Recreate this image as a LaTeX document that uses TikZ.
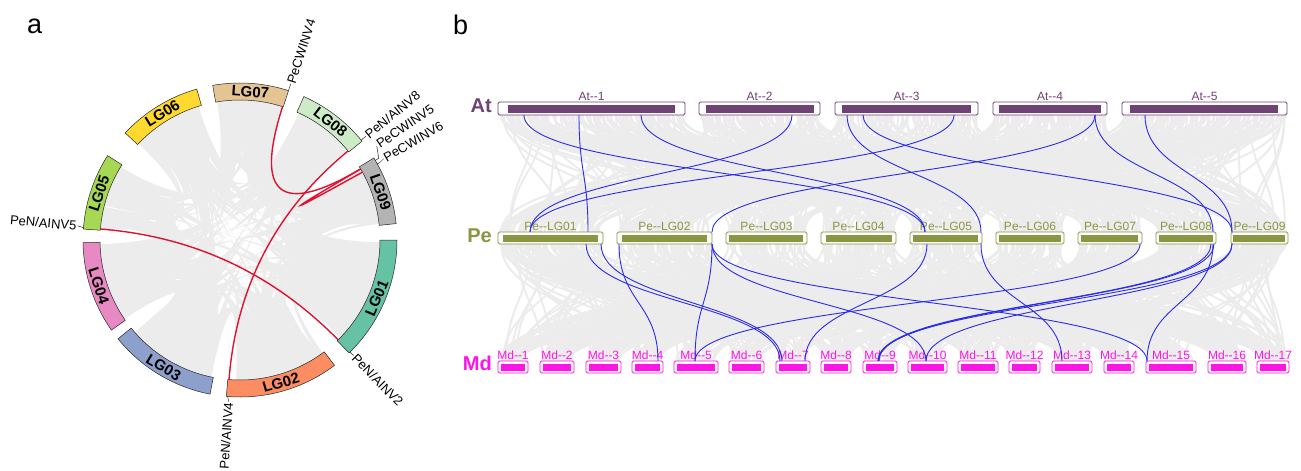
\documentclass[tikz,border=0pt]{standalone}
\usepackage{fontspec}
\setmainfont{Liberation Sans}
\definecolor{atc}{HTML}{6E4272}
\definecolor{pec}{HTML}{8A9642}
\definecolor{mdc}{HTML}{FF14E8}
\definecolor{blc}{HTML}{2B2BEB}
\definecolor{rdc}{HTML}{E0102E}
\definecolor{gyc}{HTML}{ECECEC}
\definecolor{lg1}{HTML}{66C2A5}
\definecolor{lg2}{HTML}{FC8D62}
\definecolor{lg3}{HTML}{8DA0CB}
\definecolor{lg4}{HTML}{E78AC3}
\definecolor{lg5}{HTML}{A6D854}
\definecolor{lg6}{HTML}{FFD92F}
\definecolor{lg7}{HTML}{E5C494}
\definecolor{lg8}{HTML}{CDEBC7}
\definecolor{lg9}{HTML}{B3B3B3}
\def\cst{{0,53,101,145,184,223,260,294,328.5}}
\def\cen{{46,95,141,179,212.5,254,288,321,354}}
\def\atL{{498,699,835,993,1122}}
\def\atR{{685,820,978,1107,1287}}
\def\peL{{498,617,726,821,910,996,1078,1156,1231}}
\def\peR{{603,712,807,896,982,1064,1142,1216,1288}}
\def\mdL{{498,540,586,632,674,729,776,821,863,908,958,1009,1052,1104,1146,1208,1257}}
\def\mdR{{528,574,621,663,718,764,810,851,897,947,998,1040,1092,1134,1196,1246,1289}}
\begin{document}
\begin{tikzpicture}[x=1pt,y=1pt,
  band/.style={draw=black!85, line width=0.5pt},
  lgtext/.style={font=\fontsize{15}{15}\selectfont\bfseries, inner sep=0pt},
  genetext/.style={font=\fontsize{13}{13}\selectfont, inner sep=0pt},
  ticker/.style={draw=black!85, line width=0.5pt},
  redlink/.style={draw=rdc, line width=1.4pt},
  ribbon/.style={fill=gyc},
  graylink/.style={draw=gyc, line width=2pt},
  bluelink/.style={draw=blc, line width=0.9pt},
  chrlabel/.style={font=\fontsize{12}{12}\selectfont, inner sep=0pt, anchor=base},
  rowlabel/.style={font=\fontsize{20}{20}\selectfont\bfseries, inner sep=0pt, anchor=base east},
  panel/.style={font=\fontsize{27}{27}\selectfont, inner sep=0pt, anchor=base west}
]
\useasboundingbox (0,0) rectangle (1301,-471);
\node[panel] (pa) at (27,-33) {a};
\node[panel] (pb) at (453,-34) {b};

% ================= panel a : circos =================
\begin{scope}[shift={(240,-240)}]
\pgfmathsetseed{11}
\foreach \i in {1,...,150}{
  \pgfmathtruncatemacro\ka{random(0,8)}
  \pgfmathtruncatemacro\kb{mod(\ka+random(1,8),9)}
  \pgfmathsetmacro\wa{1+8*rnd}
  \pgfmathsetmacro\wb{max(0.8,\wa*(0.5+rnd))}
  \pgfmathsetmacro\ta{\cst[\ka]+0.5+rnd*(\cen[\ka]-\cst[\ka]-\wa-1)}
  \pgfmathsetmacro\tb{\cst[\kb]+0.5+rnd*(\cen[\kb]-\cst[\kb]-\wb-1)}
  \fill[ribbon] (-\ta:140) .. controls (-\ta:46.7) and (-\tb:46.7) .. (-\tb:140)
     arc[start angle=-\tb, end angle={-\tb-\wb}, radius=140]
     .. controls ({-\tb-\wb}:46.7) and ({-\ta-\wa}:46.7) .. ({-\ta-\wa}:140)
     arc[start angle={-\ta-\wa}, end angle=-\ta, radius=140] -- cycle;
}
\foreach \s/\e/\c/\t in {0/46/lg1/LG01, 53/95/lg2/LG02, 101/141/lg3/LG03, 145/179/lg4/LG04,
    184/212.5/lg5/LG05, 223/254/lg6/LG06, 260/288/lg7/LG07, 294/321/lg8/LG08, 328.5/354/lg9/LG09}{
  \filldraw[band, fill=\c] (-\s:140) arc[start angle=-\s, end angle=-\e, radius=140]
     -- (-\e:157) arc[start angle=-\e, end angle=-\s, radius=157] -- cycle;
  \pgfmathsetmacro\cm{(\s+\e)/2}
  \pgfmathsetmacro\rr{\cm<180 ? 90-\cm : 270-\cm}
  \node[lgtext, rotate=\rr] (\t) at (-\cm:148.5) {\t};
}
% red links (quadratic Bezier through the centre)
\coordinate (gCW4) at (-287.7:140);
\coordinate (gCW5) at (-329.5:140);
\coordinate (gCW6) at (-331:140);
\coordinate (gA8) at (-320.5:140);
\coordinate (gA4) at (-94.5:140);
\coordinate (gA5) at (-184.5:140);
\coordinate (gA2) at (-45.5:140);
\draw[redlink] (gCW4) .. controls (-287.7:46.7) and (-329.5:46.7) .. (gCW5);
\draw[redlink] (gCW5) .. controls (-329.5:46.7) and (-331:46.7) .. (gCW6);
\draw[redlink] (gA8) .. controls (-320.5:46.7) and (-94.5:46.7) .. (gA4);
\draw[redlink] (gA5) .. controls (-184.5:46.7) and (-45.5:46.7) .. (gA2);
% gene labels
\draw[ticker] (-288:157) -- (-288:164);
\node[genetext, anchor=west, rotate=72] (tCW4) at (-288:165) {PeCWINV4};
\draw[ticker] (-320.5:157) -- (-320.5:163);
\node[genetext, anchor=west, rotate=39] (tA8) at (-320.5:164) {PeN/AINV8};
\draw[ticker] (-329.5:157) -- (-329.5:161) -- (-325.5:166);
\node[genetext, anchor=west, rotate=34.5] (tCW5) at (-325.5:167) {PeCWINV5};
\draw[ticker] (-331:157) -- (-331:160) -- (-330.5:165);
\node[genetext, anchor=west, rotate=30] (tCW6) at (-330.5:166) {PeCWINV6};
\draw[ticker] (-184.5:157) -- (-185:163);
\node[genetext, anchor=east, rotate=-5] (tA5) at (-185:164) {PeN/AINV5};
\draw[ticker] (-94.5:157) -- (-94:162);
\node[genetext, anchor=east, rotate=86] (tA4) at (-94:163) {PeN/AINV4};
\draw[ticker] (-45.5:157) -- (-45.5:162);
\node[genetext, anchor=west, rotate=-45.5] (tA2) at (-45.5:163) {PeN/AINV2};
\end{scope}

% ================= panel b : synteny =================
\pgfmathsetseed{5}
\foreach \i in {1,...,650}{
  \pgfmathtruncatemacro\ka{random(0,4)}
  \pgfmathtruncatemacro\kb{random(0,8)}
  \pgfmathsetmacro\xa{\atL[\ka]+2+rnd*(\atR[\ka]-\atL[\ka]-4)}
  \pgfmathsetmacro\xb{\peL[\kb]+2+rnd*(\peR[\kb]-\peL[\kb]-4)}
  \draw[graylink] (\xa,-115) .. controls (\xa,-173.5) and (\xb,-173.5) .. (\xb,-232);
}
\foreach \i in {1,...,650}{
  \pgfmathtruncatemacro\ka{random(0,8)}
  \pgfmathtruncatemacro\kb{random(0,16)}
  \pgfmathsetmacro\xa{\peL[\ka]+2+rnd*(\peR[\ka]-\peL[\ka]-4)}
  \pgfmathsetmacro\xb{\mdL[\kb]+2+rnd*(\mdR[\kb]-\mdL[\kb]-4)}
  \draw[graylink] (\xa,-244) .. controls (\xa,-302.5) and (\xb,-302.5) .. (\xb,-361);
}
% row labels
\node[rowlabel, text=atc] (rAt) at (492,-112) {At};
\node[rowlabel, text=pec] (rPe) at (492,-242) {Pe};
\node[rowlabel, text=mdc] (rMd) at (492,-370) {Md};
% At boxes
\foreach \n/\a/\b/\c/\d/\t in {at1/498/685/508/675/1, at2/699/820/706/814/2,
   at3/835/978/842/971/3, at4/993/1107/999/1101/4, at5/1122/1287/1130/1278/5}{
  \draw[atc, fill=white, line width=0.8pt, rounded corners=1.5pt] (\a,-102) rectangle (\b,-115);
  \fill[atc] (\c,-104.5) rectangle (\d,-112.5);
  \node[chrlabel, text=atc] (\n) at ({(\a+\b)/2},-100.5) {At-{}-\t};
}
% Pe boxes
\foreach \n/\a/\b/\c/\d/\t in {pe1/498/603/503/598/01, pe2/617/712/622/707/02,
   pe3/726/807/729/803/03, pe4/821/896/826/892/04, pe5/910/982/913/978/05,
   pe6/996/1064/999/1061/06, pe7/1078/1142/1081/1138/07,
   pe8/1156/1216/1159/1213/08, pe9/1231/1288/1233/1285/09}{
  \draw[pec, fill=white, line width=0.8pt, rounded corners=1.5pt] (\a,-232) rectangle (\b,-244);
  \fill[pec] (\c,-234.5) rectangle (\d,-241.8);
  \node[chrlabel, text=pec] (\n) at ({(\a+\b)/2},-230) {Pe-{}-LG\t};
}
% Md boxes
\foreach \a/\b [count=\k] in {498/528,540/574,586/621,632/663,674/718,729/764,776/810,821/851,
   863/897,908/947,958/998,1009/1040,1052/1092,1104/1134,1146/1196,1208/1246,1257/1289}{
  \draw[mdc, fill=white, line width=0.8pt, rounded corners=1.5pt] (\a,-361) rectangle (\b,-373);
  \fill[mdc] ({\a+3},-363.5) rectangle ({\b-3},-370.8);
  \node[chrlabel, text=mdc] (md\k) at ({(\a+\b)/2},-359) {Md-{}-\k};
}
% blue links At -> Pe
\foreach \p/\q in {524/925, 579/588, 641/925, 792/530, 954/530, 1095/712, 847/981,
   863/1232, 1095/1213, 1145/1232}{
  \coordinate (ua) at (\p,-115);
  \coordinate (ub) at (\q,-232);
  \draw[bluelink] (ua) .. controls (\p,-173.5) and (\q,-173.5) .. (ub);
}
% blue links Pe -> Md
\foreach \p/\q in {586/780, 601/782, 619/658, 712/695, 712/926, 712/1147, 927/805,
   981/1062, 1140/695, 1213/1147, 1211/878, 1214/879, 1232/878, 1232/926}{
  \coordinate (va) at (\p,-244);
  \coordinate (vb) at (\q,-361);
  \draw[bluelink] (va) .. controls (\p,-302.5) and (\q,-302.5) .. (vb);
}
\end{tikzpicture}
\end{document}
